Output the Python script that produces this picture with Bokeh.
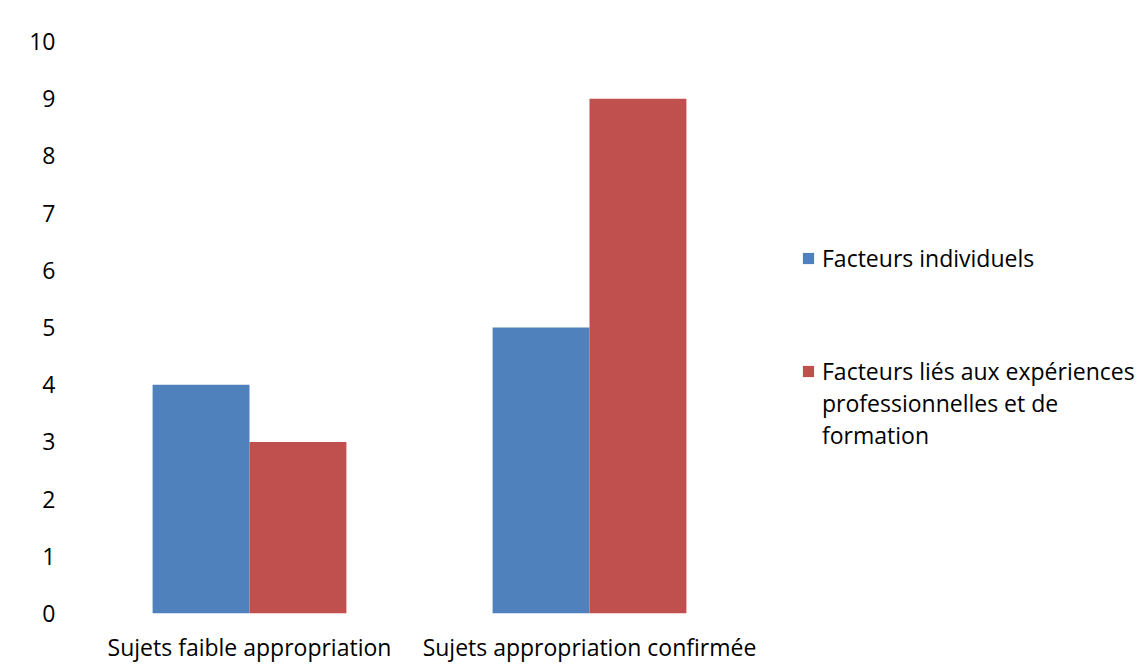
from bokeh.plotting import figure
from bokeh.models import FactorRange, Range1d, Legend, LegendItem, SingleIntervalTicker
from bokeh.layouts import row
from bokeh.transform import dodge
from bokeh.embed import file_html
from bokeh.resources import INLINE

categories = ["Sujets faible appropriation", "Sujets appropriation confirmée"]
individuels = [4, 5]
experiences = [3, 9]
legend_line1 = ["Facteurs individuels", "Facteurs liés aux expériences"]
legend_cont = ["professionnelles et de", "formation"]
colors = ["#4F81BD", "#C0504D"]

FONT = "Open Sans"
FS = "23px"

p = figure(x_range=FactorRange(*categories), y_range=Range1d(0, 10),
           width=759, height=665, output_backend="svg", toolbar_location=None,
           min_border_left=79, min_border_right=0, min_border_top=41, min_border_bottom=41)

bw = 0.285
p.vbar(x=dodge("x", -bw / 2, range=p.x_range), top="top", width=bw,
       source=dict(x=categories, top=individuels), fill_color=colors[0], line_color=None)
p.vbar(x=dodge("x", bw / 2, range=p.x_range), top="top", width=bw,
       source=dict(x=categories, top=experiences), fill_color=colors[1], line_color=None)

p.outline_line_color = None
p.xgrid.visible = False
p.ygrid.visible = False

p.yaxis.ticker = SingleIntervalTicker(interval=1)
p.yaxis.axis_line_color = None
p.yaxis.major_tick_line_color = None
p.yaxis.minor_tick_line_color = None
p.yaxis.major_label_standoff = 18
p.yaxis.major_label_text_font = FONT
p.yaxis.major_label_text_font_size = FS
p.yaxis.major_label_text_color = "black"

p.xaxis.axis_line_color = None
p.xaxis.major_tick_line_color = None
p.xaxis.minor_tick_line_color = None
p.xaxis.major_label_standoff = 11
p.xaxis.major_label_text_font = FONT
p.xaxis.major_label_text_font_size = FS
p.xaxis.major_label_text_color = "black"
p.xaxis.major_label_orientation = "horizontal"

# Legend panel (separate figure to the right)
q = figure(width=384, height=665, output_backend="svg", toolbar_location=None,
           x_range=Range1d(0, 1), y_range=Range1d(0, 1),
           min_border=0, x_axis_location=None, y_axis_location=None)
q.outline_line_color = None
q.xgrid.visible = False
q.ygrid.visible = False
e = dict(x=[0.5], top=[0])  # zero-height proxies, only used as legend swatches
g1 = q.vbar(x="x", top="top", width=0, source=e, fill_color=colors[0], line_color=None)
g2 = q.vbar(x="x", top="top", width=0, source=e, fill_color=colors[1], line_color=None)
g3 = q.vbar(x="x", top="top", width=0, source=e, fill_alpha=0, line_alpha=0)

common = dict(orientation="vertical", border_line_color=None, background_fill_alpha=0,
              label_text_font=FONT, label_text_font_size=FS, label_text_color="black",
              glyph_width=14, glyph_height=14, label_standoff=7, padding=0, margin=0,
              spacing=0, label_height=32)

leg1 = Legend(items=[LegendItem(label=legend_line1[0], renderers=[g1])],
              location=(42, 665 - 275 - 51), **common)
leg2 = Legend(items=[LegendItem(label=legend_line1[1], renderers=[g2]),
                     LegendItem(label=legend_cont[0], renderers=[g3]),
                     LegendItem(label=legend_cont[1], renderers=[g3])],
              location=(42, 665 - 452 - 51), **common)
q.add_layout(leg1, "center")
q.add_layout(leg2, "center")

layout = row(p, q, spacing=0)
open("out.html", "w").write(file_html(layout, INLINE))
